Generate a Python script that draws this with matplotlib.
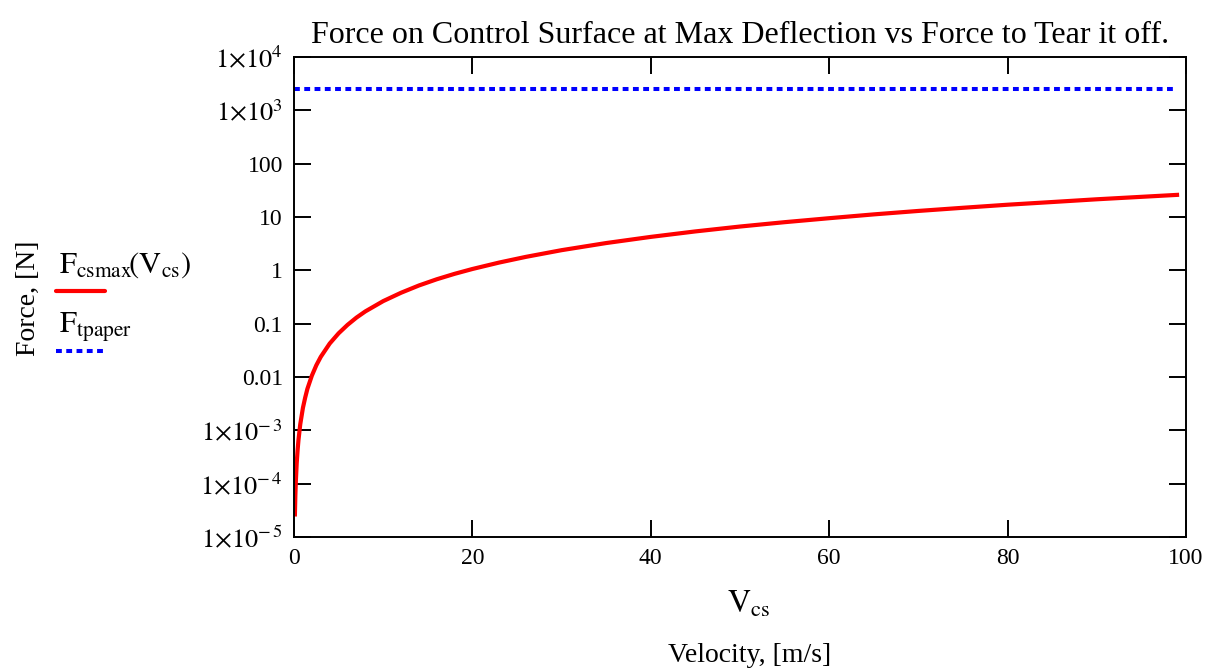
import numpy as np
import matplotlib.pyplot as plt
from matplotlib.lines import Line2D

plt.rcParams['font.family'] = ['Liberation Serif', 'DejaVu Serif']
plt.rcParams['mathtext.fontset'] = 'stix'

# Values.
v_cs = [0.1, 0.15, 0.2, 0.3, 0.4, 0.5, 0.7, 1, 1.25, 1.5, 2, 2.5, 3, 4, 5,
        6, 7, 8, 10, 12, 14, 16, 18, 20, 23, 26, 30, 35, 40, 45, 50, 55,
        60, 65, 70, 75, 80, 85, 90, 95, 99]
f_csmax = [2.65e-5, 6.0e-5, 1.06e-4, 2.4e-4, 4.2e-4, 6.6e-4, 1.3e-3, 2.65e-3,
           4.1e-3, 6.0e-3, 0.0106, 0.0166, 0.0239, 0.0424, 0.066,
           0.095, 0.13, 0.17, 0.265, 0.38, 0.52, 0.68, 0.86, 1.06, 1.40, 1.79,
           2.39, 3.25, 4.24, 5.37, 6.63, 8.0,
           9.5, 11.2, 13.0, 14.9, 17.0, 19.1, 21.5, 23.9, 26.0]
v_paper = [0, 99]
f_tpaper = [2500, 2500]

y_ticks = [1e-5, 1e-4, 1e-3, 0.01, 0.1, 1, 10, 100, 1e3, 1e4]
y_labels = [r"$1{\times}10^{-\,5}$", r"$1{\times}10^{-\,4}$", r"$1{\times}10^{-\,3}$",
            "0.01", "0.1", "1", "10", "100",
            r"$1{\times}10^{3}$", r"$1{\times}10^{4}$"]
x_ticks = [0, 20, 40, 60, 80, 100]

fig = plt.figure(figsize=(12.21, 6.70), dpi=100)
ax = fig.add_axes([0.2408, 0.1985, 0.7305, 0.7164])

ax.plot(v_cs, f_csmax, color="red", lw=3)
ax.plot(v_paper, f_tpaper, color="blue", lw=2.9, linestyle=(0, (1.45, 1.1)))

ax.set_yscale("log")
ax.set_xlim(0, 100)
ax.set_ylim(1e-5, 1e4)
ax.set_yticks(y_ticks)
ax.set_yticklabels(y_labels)
ax.set_xticks(x_ticks)
ax.minorticks_off()
ax.tick_params(direction="in", length=12, width=1.4, labelsize=17,
               top=True, right=True, pad=8)
for lab in ax.get_yticklabels():
    if "times" in lab.get_text():
        lab.set_fontsize(19)
for s in ax.spines.values():
    s.set_linewidth(1.4)

ax.set_title("Force on Control Surface at Max Deflection vs Force to Tear it off.",
             fontsize=23, pad=10)
fig.text(0.6135, 0.097, r"$\mathrm{V}_{\mathrm{cs}}$", fontsize=23, ha="center", va="center")
fig.text(0.6135, 0.022, "Velocity, [m/s]", fontsize=20, ha="center", va="center")
fig.text(0.023, 0.555, "Force, [N]", fontsize=20, rotation=90, ha="center", va="center")

# Legend drawn to the left of the axes.
fig.text(0.048, 0.604, r"$\mathrm{F}_{\mathrm{csmax}}\!\left(\mathrm{V}_{\mathrm{cs}}\right)$",
         fontsize=22, ha="left", va="center")
fig.add_artist(Line2D([0.046, 0.086], [0.566, 0.566], color="red", lw=3,
                      solid_capstyle="round"))
fig.text(0.048, 0.512, r"$\mathrm{F}_{\mathrm{tpaper}}$", fontsize=22,
         ha="left", va="center")
fig.add_artist(Line2D([0.046, 0.088], [0.476, 0.476], color="blue", lw=2.9,
                      linestyle=(0, (1.45, 1.1))))

fig.savefig("out.png", dpi=100)
